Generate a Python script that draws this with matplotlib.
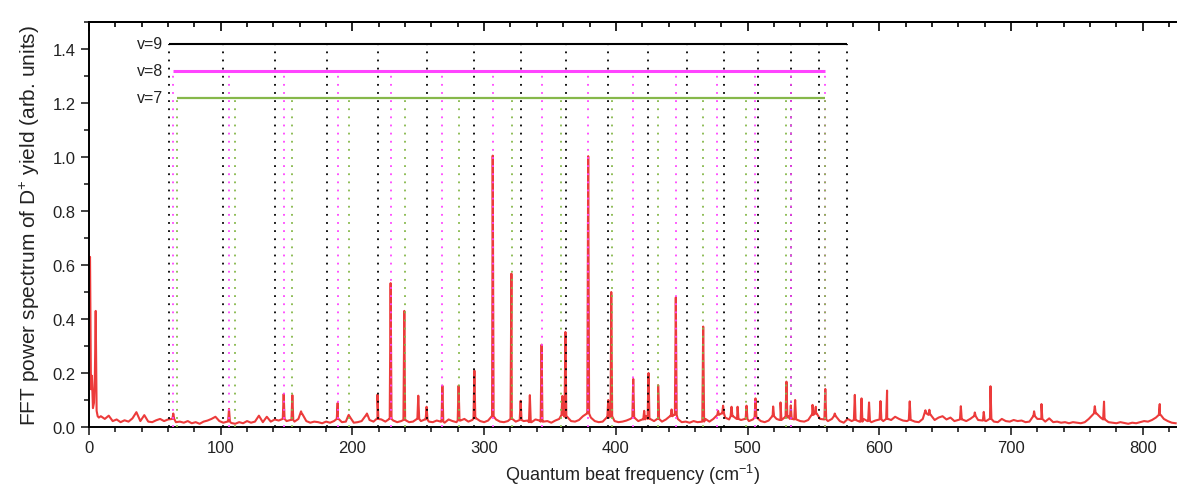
import numpy as np
import matplotlib
matplotlib.use("Agg")
import matplotlib.pyplot as plt
from matplotlib.ticker import MultipleLocator, FormatStrFormatter

plt.rcParams["font.family"] = ["Liberation Sans", "DejaVu Sans"]
plt.rcParams["mathtext.default"] = "regular"

# ── Spectrum data (cm^-1, arb. units) ─────────────────────────────────────────
# low-frequency structure near zero
lowfreq_x = [0.0, 0.8, 1.5, 2.2, 3.0, 3.8, 4.5, 5.1, 5.8, 6.6, 7.5]
lowfreq_y = [0.58, 0.63, 0.14, 0.19, 0.07, 0.09, 0.20, 0.43, 0.06, 0.04, 0.035]

# background level, sampled every 3 cm^-1 starting at 9 cm^-1 (units of 1e-3)
baseline_start = 9
baseline_step = 3
baseline_milli = [
    40, 30, 42, 22, 28, 18, 25, 20, 32, 55, 22, 44, 20, 18, 25, 30, 22, 28, 30, 18, 20, 16,
    22, 14, 18, 12, 20, 24, 30, 38, 22, 16, 20, 15, 12, 18, 14, 22, 16, 20, 42, 18, 38, 20, 28, 24, 30, 22,
    26, 20, 30, 48, 22, 16, 20, 18, 14, 20, 16, 22, 30, 18, 20, 38, 16, 18, 22, 42, 26, 20, 30, 28, 20,
    30, 24, 18, 22, 26, 18, 20, 30, 22, 28, 20, 18, 24, 20, 16, 28, 22, 18, 24, 30, 20, 26, 32, 22, 18,
    24, 40, 28, 20, 18, 22, 30, 20, 26, 22, 24, 18, 28, 24, 20, 22, 16, 24, 30, 45, 38, 22, 20, 26, 40,
    50, 35, 22, 18, 20, 35, 40, 22, 18, 20, 24, 30, 35, 22, 28, 40, 30, 22, 30, 20, 28, 40, 45, 30, 18,
    20, 16, 22, 18, 20, 30, 20, 30, 45, 50, 35, 28, 40, 30, 26, 30, 22, 28, 35, 22, 18, 24, 40, 30, 26,
    35, 40, 30, 28, 22, 20, 26, 45, 50, 30, 28, 22, 30, 40, 22, 16, 30, 22, 26, 20, 30, 22, 18, 24, 28,
    22, 30, 26, 38, 30, 24, 22, 26, 20, 18, 30, 50, 45, 26, 35, 40, 28, 35, 22, 26, 28, 22, 30, 40, 26,
    24, 22, 30, 20, 18, 30, 22, 20, 26, 22, 24, 18, 20, 40, 30, 30, 20, 32, 18, 20, 16, 18, 14, 18, 16,
    14, 18, 30, 45, 50, 35, 28, 18, 16, 14, 18, 15, 12, 16, 14, 18, 22, 20, 26, 35, 45, 30, 22, 16, 14,
]

# resolved peaks: position (cm^-1) and height
peak_pos = [
    64.0, 106.3, 147.8, 154.4, 161.0, 188.8, 197.2, 211.0, 219.0, 229.0,
    239.4, 250.0, 256.3, 268.3, 280.6, 292.6, 306.5, 320.7, 327.7, 334.7,
    343.6, 359.4, 361.7, 379.0, 394.2, 396.5, 413.2, 421.5, 424.8, 432.1,
    442.3, 445.5, 466.3, 477.6, 481.4, 487.8, 492.4, 499.2, 506.0, 519.4,
    525.0, 529.5, 532.8, 536.1, 549.3, 551.8, 559.0, 566.2, 581.4, 586.5,
    592.2, 600.9, 605.9, 623.1, 635.0, 638.0, 661.9, 672.5, 679.3, 684.4,
    717.5, 723.1, 763.6, 770.6, 812.9,
]
peak_height = [
    0.050, 0.067, 0.122, 0.118, 0.058, 0.089, 0.045, 0.050, 0.120, 0.533,
    0.430, 0.116, 0.075, 0.153, 0.153, 0.209, 1.005, 0.568, 0.097, 0.118,
    0.305, 0.115, 0.352, 1.003, 0.100, 0.500, 0.178, 0.060, 0.200, 0.155,
    0.065, 0.480, 0.372, 0.060, 0.079, 0.075, 0.075, 0.079, 0.106, 0.076,
    0.091, 0.168, 0.080, 0.100, 0.082, 0.075, 0.141, 0.050, 0.119, 0.106,
    0.091, 0.096, 0.135, 0.095, 0.062, 0.064, 0.077, 0.054, 0.056, 0.151,
    0.058, 0.085, 0.077, 0.094, 0.085,
]

# ── Vibrational progressions (beat frequencies, cm^-1) ────────────────────────
v9_lines = [60.7, 101.4, 141.2, 180.4, 219.1, 256.3, 292.5, 327.7, 361.8,
            394.2, 424.6, 454.1, 481.9, 508.0, 532.8, 554.3, 575.1]
v8_lines = [64.0, 106.3, 148.0, 188.7, 229.0, 268.2, 306.4, 343.6, 379.0,
            412.8, 445.5, 476.4, 506.0, 533.3, 558.6]
v7_lines = [67.0, 110.8, 154.5, 197.5, 239.8, 281.1, 320.8, 358.7, 396.7,
            432.1, 466.3, 498.7, 529.5, 558.6]
progressions = [
    ("v=9", v9_lines, 1.42, "black", 1.5),
    ("v=8", v8_lines, 1.32, "#ff44ff", 2.2),
    ("v=7", v7_lines, 1.22, "#86b84a", 1.6),
]

# ── Assemble the spectrum trace ───────────────────────────────────────────────
base_x = baseline_start + baseline_step * np.arange(len(baseline_milli))
base_y = np.array(baseline_milli) / 1000.0

xs = list(lowfreq_x) + list(base_x)
ys = list(lowfreq_y) + list(base_y)
half_w = 0.7
for p, h in zip(peak_pos, peak_height):
    lvl = base_y[np.argmin(np.abs(base_x - p))]
    xs += [p - half_w, p, p + half_w]
    ys += [lvl, h, lvl]
order = np.argsort(xs, kind="stable")
spec_x = np.asarray(xs)[order]
spec_y = np.asarray(ys)[order]

# ── Figure ────────────────────────────────────────────────────────────────────
fig = plt.figure(figsize=(11.77, 4.89), dpi=100)
ax = fig.add_axes([0.0756, 0.1247, 0.9244, 0.8283])

ax.plot(spec_x, spec_y, color="#ec3b3b", lw=1.5, zorder=2)

for label, lines, level, color, lw in progressions:
    ax.vlines(lines, 0, level, colors=color, linestyles=(0, (1, 3.5)),
              lw=1.3, zorder=3)
    ax.hlines(level, lines[0], lines[-1], colors=color, lw=lw, zorder=4)
    ax.text(56, level, label, ha="right", va="center",
            fontsize=11.5, color="#222222")

ax.set_xlim(0, 826)
ax.set_ylim(0, 1.5)
ax.xaxis.set_major_locator(MultipleLocator(100))
ax.xaxis.set_minor_locator(MultipleLocator(20))
ax.yaxis.set_major_locator(MultipleLocator(0.2))
ax.yaxis.set_minor_locator(MultipleLocator(0.1))
ax.yaxis.set_major_formatter(FormatStrFormatter("%.1f"))

ax.spines["right"].set_visible(False)
for s in ("left", "bottom", "top"):
    ax.spines[s].set_linewidth(1.4)
ax.tick_params(which="both", direction="out", width=1.2, labelsize=12,
               colors="#222222", top=False)
ax.tick_params(which="major", length=6)
ax.tick_params(which="minor", length=3.5)

# mirrored ticks on the top spine, pointing inward
top = ax.secondary_xaxis("top")
top.xaxis.set_major_locator(MultipleLocator(100))
top.xaxis.set_minor_locator(MultipleLocator(20))
top.tick_params(which="both", direction="in", width=1.2, labeltop=False)
top.tick_params(which="major", length=6.5)
top.tick_params(which="minor", length=3.5)
top.spines["top"].set_linewidth(1.4)

ax.set_xlabel("Quantum beat frequency (cm$^{-1}$)", fontsize=13,
              color="#222222", labelpad=5)
ax.set_ylabel("FFT power spectrum of D$^{+}$ yield (arb. units)", fontsize=15,
              color="#222222", labelpad=8)

fig.savefig("out.png", dpi=100)
